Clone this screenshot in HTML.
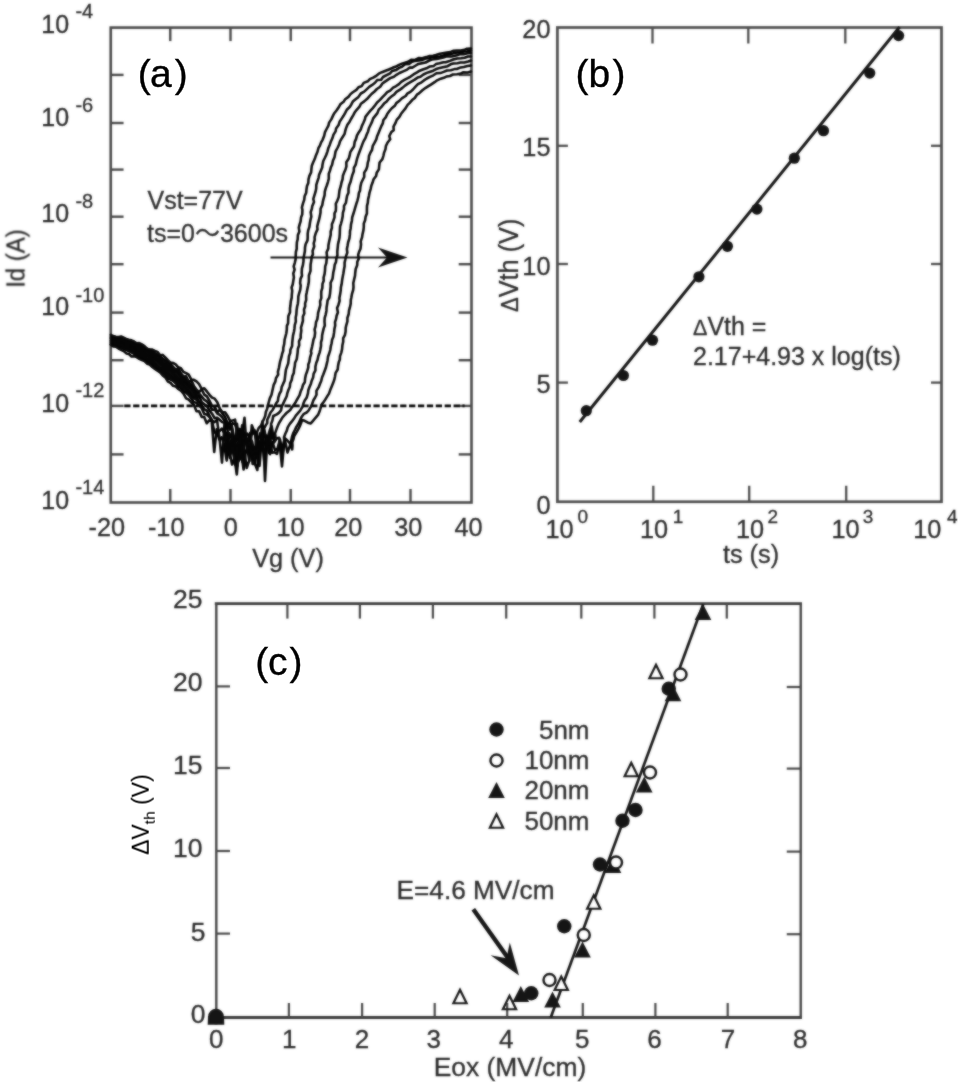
<!DOCTYPE html>
<html><head><meta charset="utf-8"><title>Figure</title>
<style>
html,body{margin:0;padding:0;background:#fff;}
svg{display:block;font-family:"Liberation Sans", "Noto Sans CJK JP", sans-serif;}
</style></head>
<body>
<svg width="962" height="1083" viewBox="0 0 962 1083">
<defs><filter id="soft" x="0" y="0" width="100%" height="100%" filterUnits="objectBoundingBox" color-interpolation-filters="sRGB"><feGaussianBlur stdDeviation="0.8" result="b"/><feComposite in="b" in2="SourceGraphic" operator="arithmetic" k1="0" k2="0.6" k3="0.4" k4="0"/></filter></defs>
<rect width="962" height="1083" fill="#fff"/>
<g filter="url(#soft)">
<rect x="110.75" y="27.6" width="360.75" height="474.9" fill="none" stroke="#484848" stroke-width="2.6"/>
<line x1="170.25" y1="27.60" x2="170.25" y2="41.10" stroke="#484848" stroke-width="2.4" />
<line x1="170.25" y1="502.50" x2="170.25" y2="489.00" stroke="#484848" stroke-width="2.4" />
<line x1="230.50" y1="27.60" x2="230.50" y2="41.10" stroke="#484848" stroke-width="2.4" />
<line x1="230.50" y1="502.50" x2="230.50" y2="489.00" stroke="#484848" stroke-width="2.4" />
<line x1="290.75" y1="27.60" x2="290.75" y2="41.10" stroke="#484848" stroke-width="2.4" />
<line x1="290.75" y1="502.50" x2="290.75" y2="489.00" stroke="#484848" stroke-width="2.4" />
<line x1="350.00" y1="27.60" x2="350.00" y2="41.10" stroke="#484848" stroke-width="2.4" />
<line x1="350.00" y1="502.50" x2="350.00" y2="489.00" stroke="#484848" stroke-width="2.4" />
<line x1="410.50" y1="27.60" x2="410.50" y2="41.10" stroke="#484848" stroke-width="2.4" />
<line x1="410.50" y1="502.50" x2="410.50" y2="489.00" stroke="#484848" stroke-width="2.4" />
<line x1="110.75" y1="74.90" x2="123.55" y2="74.90" stroke="#484848" stroke-width="2.4" />
<line x1="471.50" y1="74.90" x2="458.70" y2="74.90" stroke="#484848" stroke-width="2.4" />
<line x1="110.75" y1="123.00" x2="123.55" y2="123.00" stroke="#484848" stroke-width="2.4" />
<line x1="471.50" y1="123.00" x2="458.70" y2="123.00" stroke="#484848" stroke-width="2.4" />
<line x1="110.75" y1="169.60" x2="123.55" y2="169.60" stroke="#484848" stroke-width="2.4" />
<line x1="471.50" y1="169.60" x2="458.70" y2="169.60" stroke="#484848" stroke-width="2.4" />
<line x1="110.75" y1="216.70" x2="123.55" y2="216.70" stroke="#484848" stroke-width="2.4" />
<line x1="471.50" y1="216.70" x2="458.70" y2="216.70" stroke="#484848" stroke-width="2.4" />
<line x1="110.75" y1="264.20" x2="123.55" y2="264.20" stroke="#484848" stroke-width="2.4" />
<line x1="471.50" y1="264.20" x2="458.70" y2="264.20" stroke="#484848" stroke-width="2.4" />
<line x1="110.75" y1="312.60" x2="123.55" y2="312.60" stroke="#484848" stroke-width="2.4" />
<line x1="471.50" y1="312.60" x2="458.70" y2="312.60" stroke="#484848" stroke-width="2.4" />
<line x1="110.75" y1="360.20" x2="123.55" y2="360.20" stroke="#484848" stroke-width="2.4" />
<line x1="471.50" y1="360.20" x2="458.70" y2="360.20" stroke="#484848" stroke-width="2.4" />
<line x1="110.75" y1="405.90" x2="123.55" y2="405.90" stroke="#484848" stroke-width="2.4" />
<line x1="471.50" y1="405.90" x2="458.70" y2="405.90" stroke="#484848" stroke-width="2.4" />
<line x1="110.75" y1="454.40" x2="123.55" y2="454.40" stroke="#484848" stroke-width="2.4" />
<line x1="471.50" y1="454.40" x2="458.70" y2="454.40" stroke="#484848" stroke-width="2.4" />
<text x="41.30" y="33.30" font-size="25" fill="#2b2b2b" stroke="#2b2b2b" stroke-width="0.3" text-anchor="start" >10</text>
<text x="75.40" y="18.30" font-size="20" fill="#2b2b2b" stroke="#2b2b2b" stroke-width="0.3" text-anchor="start" >-4</text>
<text x="41.30" y="126.00" font-size="25" fill="#2b2b2b" stroke="#2b2b2b" stroke-width="0.3" text-anchor="start" >10</text>
<text x="75.40" y="112.00" font-size="20" fill="#2b2b2b" stroke="#2b2b2b" stroke-width="0.3" text-anchor="start" >-6</text>
<text x="41.30" y="222.00" font-size="25" fill="#2b2b2b" stroke="#2b2b2b" stroke-width="0.3" text-anchor="start" >10</text>
<text x="75.40" y="208.30" font-size="20" fill="#2b2b2b" stroke="#2b2b2b" stroke-width="0.3" text-anchor="start" >-8</text>
<text x="41.30" y="315.30" font-size="25" fill="#2b2b2b" stroke="#2b2b2b" stroke-width="0.3" text-anchor="start" >10</text>
<text x="75.40" y="302.00" font-size="20" fill="#2b2b2b" stroke="#2b2b2b" stroke-width="0.3" text-anchor="start" >-10</text>
<text x="41.30" y="412.20" font-size="25" fill="#2b2b2b" stroke="#2b2b2b" stroke-width="0.3" text-anchor="start" >10</text>
<text x="75.40" y="396.80" font-size="20" fill="#2b2b2b" stroke="#2b2b2b" stroke-width="0.3" text-anchor="start" >-12</text>
<text x="41.30" y="509.00" font-size="25" fill="#2b2b2b" stroke="#2b2b2b" stroke-width="0.3" text-anchor="start" >10</text>
<text x="75.40" y="493.50" font-size="20" fill="#2b2b2b" stroke="#2b2b2b" stroke-width="0.3" text-anchor="start" >-14</text>
<text x="106.75" y="536.20" font-size="25.3" fill="#2b2b2b" stroke="#2b2b2b" stroke-width="0.3" text-anchor="middle" >-20</text>
<text x="166.20" y="536.20" font-size="25.3" fill="#2b2b2b" stroke="#2b2b2b" stroke-width="0.3" text-anchor="middle" >-10</text>
<text x="230.70" y="536.20" font-size="25.3" fill="#2b2b2b" stroke="#2b2b2b" stroke-width="0.3" text-anchor="middle" >0</text>
<text x="290.60" y="536.20" font-size="25.3" fill="#2b2b2b" stroke="#2b2b2b" stroke-width="0.3" text-anchor="middle" >10</text>
<text x="348.20" y="536.20" font-size="25.3" fill="#2b2b2b" stroke="#2b2b2b" stroke-width="0.3" text-anchor="middle" >20</text>
<text x="408.30" y="536.20" font-size="25.3" fill="#2b2b2b" stroke="#2b2b2b" stroke-width="0.3" text-anchor="middle" >30</text>
<text x="468.50" y="536.20" font-size="25.3" fill="#2b2b2b" stroke="#2b2b2b" stroke-width="0.3" text-anchor="middle" >40</text>
<text x="288.00" y="567.00" font-size="25.3" fill="#2b2b2b" stroke="#2b2b2b" stroke-width="0.3" text-anchor="middle" >Vg (V)</text>
<text transform="translate(24.8,258.5) rotate(-90) scale(1,1.1)" font-size="24" fill="#2b2b2b" stroke="#2b2b2b" stroke-width="0.3" text-anchor="middle">Id (A)</text>
<text x="147.50" y="208.50" font-size="25" fill="#2b2b2b" stroke="#2b2b2b" stroke-width="0.3" text-anchor="start" >Vst=77V</text>
<text x="147.00" y="241.70" font-size="25" fill="#2b2b2b" stroke="#2b2b2b" stroke-width="0.3" text-anchor="start" >ts=0〜3600s</text>
<line x1="124.25" y1="405.90" x2="464.60" y2="405.90" stroke="#000" stroke-width="2.8" stroke-dasharray="6.3 2.6"/>
<line x1="270.50" y1="257.50" x2="392.00" y2="257.50" stroke="#111" stroke-width="2.2" />
<path d="M407.5 257.5 L378 247.5 L387 257.5 L378 267.5 Z" fill="#111"/>
<path d="M110.8 335.5 L114.8 336.2 L118.8 337.0 L122.8 338.0 L126.8 339.1 L130.8 340.3 L134.8 341.8 L138.8 343.3 L142.8 345.0 L146.8 346.9 L150.8 348.9 L154.8 351.5 L158.8 354.2 L162.8 357.1 L166.8 360.2 L170.8 363.5 L174.8 366.9 L178.8 370.6 L182.8 374.4 L186.8 378.4 L190.8 382.6 L194.8 386.9 L198.8 391.5 L198.8 403.8 L194.8 400.1 L190.8 396.4 L186.8 392.8 L182.8 389.4 L178.8 386.1 L174.8 382.9 L170.8 379.8 L166.8 376.8 L162.8 373.9 L158.8 371.2 L154.8 368.5 L150.8 366.0 L146.8 363.3 L142.8 360.6 L138.8 358.1 L134.8 355.8 L130.8 353.6 L126.8 351.6 L122.8 349.7 L118.8 347.9 L114.8 346.3 L110.8 344.9 Z" fill="#0c0c0c"/>
<g fill="none" stroke="#060606" stroke-width="2.55" stroke-linejoin="round" stroke-linecap="round">
<path d="M110.8 340.3 L113.3 341.8 L115.9 341.2 L118.5 343.2 L121.1 343.1 L123.7 344.0 L126.3 347.0 L128.9 346.4 L131.5 347.3 L134.1 349.3 L136.7 350.9 L139.3 351.0 L141.9 353.1 L144.5 353.2 L147.1 355.1 L149.7 356.6 L152.3 357.5 L154.9 359.1 L157.5 360.7 L160.1 363.5 L162.7 365.4 L165.3 367.2 L167.9 369.5 L170.5 370.4 L173.1 373.5 L175.7 376.1 L178.3 379.2 L180.9 379.5 L183.5 382.3 L186.1 383.2 L188.7 387.1 L191.3 388.0 L193.9 391.3 L196.5 397.3 L199.1 395.8 L201.7 402.3 L204.3 404.3 L206.9 406.2 L209.5 410.5 L212.1 413.7 L214.6 418.1 L217.1 417.8 L219.6 419.8 L222.1 422.1 L224.6 422.9 L227.1 428.8 L229.6 422.0 L232.1 427.3 L234.6 454.2 L237.1 466.0 L239.6 454.4 L242.1 425.2 L244.6 436.5 L247.1 433.5 L249.6 437.2 L252.1 441.7 L254.6 455.0 L257.1 431.9 L258.7 427.9 L261.0 425.6 L262.2 422.5 L263.8 419.4 L265.2 415.9 L265.9 411.8 L267.1 408.9 L267.9 405.6 L268.6 402.8 L269.8 398.4 L271.5 394.8 L272.2 391.6 L273.0 388.0 L273.7 384.8 L275.3 381.7 L276.0 378.1 L278.2 374.5 L277.9 371.9 L278.9 368.0 L279.6 364.2 L280.1 361.6 L281.4 357.2 L282.1 353.9 L283.2 350.8 L283.3 347.8 L284.2 344.0 L284.6 339.8 L285.4 336.7 L286.3 333.2 L286.8 329.6 L286.9 325.9 L288.1 323.3 L288.2 319.3 L288.4 315.9 L290.0 312.3 L290.0 308.3 L290.4 305.5 L290.8 301.4 L291.7 297.6 L291.8 294.9 L292.2 290.8 L291.6 287.5 L292.7 284.5 L293.3 280.9 L293.9 277.2 L293.3 273.5 L294.6 269.7 L293.7 266.4 L294.8 262.8 L295.6 259.4 L295.7 255.6 L295.9 251.8 L296.7 248.9 L296.7 246.1 L296.9 242.3 L297.7 239.2 L297.9 235.0 L299.4 231.6 L298.8 227.6 L299.7 224.2 L300.6 221.3 L301.1 217.2 L302.2 214.6 L302.4 210.1 L301.9 207.5 L303.0 203.4 L304.2 199.9 L304.6 196.3 L306.2 192.7 L306.4 190.0 L307.0 186.0 L308.3 182.9 L308.5 179.3 L309.4 175.9 L311.1 172.4 L311.4 169.1 L311.8 165.8 L313.0 162.7 L314.8 158.8 L315.9 155.4 L317.5 151.8 L318.4 148.2 L319.9 145.6 L321.1 142.4 L322.6 139.8 L324.2 135.8 L325.0 132.1 L326.6 129.0 L328.4 125.7 L329.1 122.6 L331.3 119.4 L332.9 115.9 L334.3 113.2 L336.5 110.5 L338.9 107.0 L340.3 104.3 L343.6 101.8 L345.2 99.2 L348.4 96.9 L350.2 94.4 L352.8 92.2 L356.4 89.9 L358.5 87.3 L361.7 86.1 L363.7 82.9 L367.8 81.3 L369.8 79.2 L373.2 77.7 L375.7 76.2 L378.8 73.7 L381.9 72.2 L385.6 70.7 L388.8 69.5 L392.5 67.8 L395.3 66.8 L399.0 64.9 L401.9 63.6 L405.0 62.7 L408.0 61.8 L411.1 59.8 L415.0 60.0 L419.0 58.0 L422.2 58.2 L426.1 57.1 L429.1 56.1 L433.1 55.7 L435.9 55.0 L439.9 53.7 L442.6 53.3 L446.8 52.6 L450.3 52.1 L453.6 50.7 L457.0 50.5 L460.9 50.6 L464.5 49.8 L466.9 48.7 L471.0 48.5"/>
<path d="M110.8 334.8 L113.3 336.1 L115.9 336.7 L118.5 336.9 L121.1 336.5 L123.7 337.7 L126.3 338.9 L128.9 339.7 L131.5 340.3 L134.1 341.5 L136.7 343.2 L139.3 343.1 L141.9 344.4 L144.5 346.0 L147.1 348.9 L149.7 349.3 L152.3 349.5 L154.9 350.9 L157.5 351.9 L160.1 355.2 L162.7 354.9 L165.3 357.4 L167.9 360.2 L170.5 362.6 L173.1 363.0 L175.7 364.3 L178.3 367.3 L180.9 368.2 L183.5 371.9 L186.1 373.1 L188.7 374.7 L191.3 379.5 L193.9 379.8 L196.5 381.4 L199.1 384.1 L201.7 389.0 L204.3 388.2 L206.9 391.4 L209.5 394.8 L212.1 397.6 L214.7 398.7 L217.3 402.2 L219.9 408.8 L222.5 412.2 L225.1 412.3 L227.6 415.9 L230.1 421.0 L232.6 420.6 L235.1 419.6 L237.6 439.7 L240.1 440.6 L242.6 431.0 L245.1 439.3 L247.6 440.8 L250.1 432.8 L252.6 463.9 L255.1 463.9 L257.6 442.0 L260.1 433.3 L261.1 436.2 L262.8 432.7 L263.7 429.1 L265.7 425.4 L267.2 423.1 L267.3 419.8 L269.2 415.8 L270.5 412.5 L272.8 409.7 L274.7 406.2 L276.0 403.5 L277.9 400.9 L278.3 397.7 L279.6 393.5 L281.1 391.0 L281.7 387.0 L283.3 383.4 L284.5 380.9 L285.0 377.2 L285.5 373.0 L285.9 369.9 L287.0 366.7 L288.2 363.3 L288.7 359.1 L289.0 356.1 L290.2 353.0 L290.4 349.8 L292.1 345.9 L292.2 342.9 L292.6 339.1 L293.0 335.6 L294.0 331.5 L294.5 328.2 L294.8 324.9 L295.8 321.7 L295.7 317.5 L296.3 314.6 L296.6 310.1 L297.1 306.8 L297.8 304.0 L298.2 300.6 L298.3 296.6 L299.0 293.8 L300.2 289.8 L300.7 285.6 L300.1 283.0 L300.5 278.9 L302.0 275.6 L301.7 272.8 L301.9 268.7 L302.9 265.1 L303.5 261.1 L303.5 258.2 L304.2 254.7 L304.9 251.1 L305.0 247.6 L305.6 244.3 L307.5 240.4 L307.7 237.6 L307.7 233.6 L308.2 230.3 L309.4 226.9 L309.9 223.0 L310.6 219.3 L311.3 216.7 L310.7 212.2 L311.9 208.7 L312.2 206.3 L314.0 202.0 L313.3 199.0 L314.4 195.3 L315.5 191.9 L316.2 188.6 L316.3 184.9 L317.4 181.4 L318.6 177.8 L319.1 174.8 L320.5 171.4 L322.2 167.5 L322.5 164.7 L323.3 161.0 L324.9 157.8 L326.2 155.0 L327.5 151.3 L328.4 147.9 L329.8 144.7 L331.0 141.2 L332.5 138.0 L333.5 134.6 L335.6 131.4 L336.1 128.4 L338.6 125.1 L339.6 121.8 L341.7 118.6 L343.5 115.8 L345.2 112.9 L346.8 109.7 L349.7 107.0 L351.2 104.7 L352.8 101.6 L355.9 99.0 L358.5 96.9 L360.8 93.5 L364.2 91.7 L366.9 89.1 L369.2 86.9 L372.2 84.9 L375.0 82.8 L377.3 80.0 L381.1 79.7 L383.0 77.0 L387.6 74.6 L390.1 73.3 L392.2 71.0 L396.3 69.9 L399.2 67.9 L402.0 66.8 L405.1 64.3 L409.0 64.1 L412.0 61.7 L414.5 61.0 L418.5 60.5 L422.3 59.9 L425.4 58.5 L429.4 58.3 L432.1 56.8 L435.8 56.8 L440.0 56.4 L443.5 55.4 L446.6 54.2 L450.3 54.3 L453.9 53.1 L457.6 52.4 L459.7 52.5 L464.0 51.4 L467.4 51.2 L471.0 50.5"/>
<path d="M110.8 344.0 L113.3 344.7 L115.9 345.3 L118.5 346.2 L121.1 346.8 L123.7 347.8 L126.3 349.8 L128.9 350.6 L131.5 351.3 L134.1 352.5 L136.7 355.3 L139.3 356.0 L141.9 358.3 L144.5 359.0 L147.1 360.1 L149.7 362.2 L152.3 364.6 L154.9 365.1 L157.5 368.4 L160.1 369.0 L162.7 372.3 L165.3 374.9 L167.9 378.6 L170.5 379.7 L173.1 380.9 L175.7 383.3 L178.3 386.5 L180.9 387.8 L183.5 391.0 L186.1 392.8 L188.7 395.0 L191.3 398.6 L193.9 402.3 L196.5 402.7 L199.1 405.7 L201.7 408.2 L204.3 414.1 L206.8 414.6 L209.3 416.9 L211.8 419.8 L214.3 431.7 L216.8 434.9 L219.3 431.5 L221.8 428.5 L224.3 433.3 L226.8 432.9 L229.3 448.4 L231.8 443.1 L234.3 457.1 L236.8 474.5 L239.3 448.0 L241.8 447.2 L244.3 439.4 L246.8 444.6 L249.3 461.1 L251.8 425.2 L254.3 431.7 L256.8 436.6 L259.3 450.5 L261.8 436.1 L264.3 461.5 L266.8 438.3 L268.0 437.7 L268.6 434.4 L269.8 430.2 L270.9 427.2 L271.2 423.6 L272.4 420.5 L273.3 416.0 L276.8 414.4 L278.9 412.9 L281.0 410.4 L281.8 406.6 L283.0 403.9 L284.7 400.4 L286.7 396.3 L287.2 393.7 L288.4 390.0 L289.8 387.0 L290.2 383.2 L291.7 379.9 L292.4 376.0 L293.8 372.9 L294.1 369.5 L294.8 366.1 L295.1 362.7 L296.7 359.3 L297.2 355.8 L297.6 352.8 L297.9 348.8 L299.2 345.3 L299.0 341.3 L300.7 337.9 L300.7 334.9 L301.3 330.6 L301.0 327.7 L302.0 324.1 L302.9 320.8 L302.9 316.6 L304.3 313.5 L304.0 309.5 L305.2 306.3 L305.1 303.4 L306.2 299.9 L306.1 295.2 L306.7 292.6 L307.3 289.5 L308.2 285.3 L308.8 282.1 L308.9 279.0 L308.9 275.5 L310.5 270.9 L310.5 268.1 L310.6 264.4 L311.2 261.1 L311.7 256.8 L312.9 254.4 L312.6 250.9 L314.2 246.5 L313.7 243.3 L314.7 239.9 L314.6 237.0 L315.7 233.3 L317.5 229.4 L317.2 226.5 L318.1 222.9 L318.9 220.2 L319.9 215.9 L320.5 212.5 L320.6 208.8 L322.3 205.0 L322.8 201.9 L323.4 199.4 L324.6 195.2 L324.8 191.6 L325.8 188.1 L326.8 185.5 L328.0 181.8 L328.8 178.7 L328.8 173.8 L329.9 170.9 L330.9 167.2 L332.1 164.7 L333.0 160.6 L334.5 157.2 L335.1 154.1 L335.6 151.3 L337.7 147.5 L339.2 144.2 L340.0 141.4 L342.2 137.7 L344.6 133.9 L345.2 131.1 L345.9 128.6 L347.4 124.8 L349.6 121.7 L351.0 119.0 L353.3 115.1 L354.6 112.6 L356.7 109.8 L359.5 106.7 L360.9 103.7 L364.2 101.4 L367.2 98.8 L369.1 96.7 L371.5 94.0 L374.5 91.5 L376.9 89.0 L380.2 86.8 L382.4 83.5 L384.7 81.9 L387.6 79.9 L390.2 78.1 L393.9 76.7 L396.4 74.8 L399.5 73.0 L402.6 71.6 L407.1 69.6 L409.8 67.6 L412.3 67.6 L415.8 65.5 L418.4 63.9 L422.1 63.2 L425.6 62.5 L428.8 60.8 L431.8 59.6 L436.6 58.9 L439.0 58.4 L443.4 57.6 L446.9 56.3 L450.7 56.4 L452.6 56.2 L456.8 55.2 L459.7 54.3 L463.3 54.3 L467.4 53.2 L471.0 53.0"/>
<path d="M110.8 338.3 L113.3 339.7 L115.9 339.4 L118.5 339.8 L121.1 341.1 L123.7 342.1 L126.3 343.3 L128.9 345.0 L131.5 344.9 L134.1 346.0 L136.7 348.2 L139.3 349.0 L141.9 349.8 L144.5 351.5 L147.1 351.1 L149.7 353.7 L152.3 354.5 L154.9 356.9 L157.5 360.0 L160.1 359.3 L162.7 363.6 L165.3 363.7 L167.9 365.9 L170.5 367.6 L173.1 371.1 L175.7 371.5 L178.3 372.5 L180.9 377.0 L183.5 378.6 L186.1 382.1 L188.7 384.5 L191.3 384.8 L193.9 388.8 L196.5 391.2 L199.1 393.6 L201.7 396.6 L204.3 399.7 L206.9 401.4 L209.5 404.7 L212.1 409.8 L214.7 409.4 L217.3 413.6 L219.8 414.9 L222.3 417.4 L224.8 421.2 L227.3 426.1 L229.8 457.7 L232.3 429.0 L234.8 441.0 L237.3 466.0 L239.8 429.0 L242.3 437.4 L244.8 433.6 L247.3 447.1 L249.8 453.5 L252.3 448.2 L254.8 463.6 L257.3 470.0 L259.8 445.1 L262.3 442.2 L264.8 433.9 L267.3 437.5 L269.8 435.5 L272.3 438.5 L275.5 436.8 L275.1 433.3 L276.1 430.4 L277.3 427.0 L278.9 423.2 L280.9 420.0 L282.5 417.4 L285.1 414.5 L286.8 412.7 L290.2 410.0 L291.9 407.4 L294.2 404.4 L295.9 401.7 L297.7 398.3 L299.5 395.3 L300.6 391.6 L302.1 388.2 L303.1 384.7 L304.8 382.2 L305.1 378.6 L305.9 374.6 L307.1 371.5 L308.3 367.3 L308.3 364.5 L309.4 361.8 L310.1 357.3 L311.4 353.1 L310.9 351.5 L312.0 347.1 L312.8 343.3 L313.5 339.6 L314.6 336.9 L315.1 332.8 L314.6 329.4 L315.6 326.2 L316.0 322.3 L317.3 319.3 L317.9 315.2 L318.1 312.8 L319.4 308.3 L320.3 305.0 L320.1 301.3 L321.3 298.1 L321.2 294.2 L321.3 291.1 L322.3 288.1 L322.5 283.9 L323.7 280.8 L323.6 277.5 L324.6 273.8 L325.0 270.3 L325.2 266.4 L326.3 263.1 L326.6 259.8 L327.0 256.1 L326.6 252.2 L328.3 248.6 L328.4 245.5 L329.0 242.2 L329.9 238.3 L330.7 234.8 L330.7 231.5 L331.9 227.9 L331.9 224.3 L333.2 221.2 L334.5 217.4 L334.5 213.3 L335.8 210.8 L336.0 206.8 L335.8 203.8 L337.3 200.7 L338.7 197.1 L339.1 193.6 L339.5 190.3 L340.8 185.9 L341.5 182.5 L342.6 179.1 L342.9 175.8 L344.1 172.6 L345.5 169.5 L346.4 166.3 L346.3 162.3 L348.8 158.5 L349.6 155.7 L350.3 152.1 L352.4 148.8 L354.0 146.5 L354.7 141.9 L356.1 138.9 L356.9 135.6 L358.7 132.4 L360.7 129.6 L361.9 125.9 L363.4 122.8 L364.9 119.3 L365.4 116.9 L368.2 113.3 L370.4 110.6 L372.6 108.4 L375.1 105.3 L377.1 102.5 L380.0 99.9 L382.5 97.1 L385.0 94.6 L387.2 92.2 L390.2 90.6 L393.1 87.7 L395.8 86.3 L399.0 84.1 L401.2 81.8 L404.4 79.9 L407.8 78.2 L410.6 76.6 L413.5 74.4 L417.0 72.4 L419.7 70.7 L422.8 69.5 L426.5 68.3 L429.9 66.4 L433.8 65.9 L435.9 64.1 L439.6 63.3 L443.4 62.2 L445.6 62.2 L450.4 60.6 L453.2 59.5 L457.3 58.6 L460.9 58.2 L464.6 57.7 L468.1 56.5 L471.0 56.5"/>
<path d="M110.8 344.7 L113.3 346.6 L115.9 346.7 L118.5 348.5 L121.1 349.8 L123.7 351.1 L126.3 353.4 L128.9 354.0 L131.5 356.5 L134.1 356.2 L136.7 357.1 L139.3 358.9 L141.9 360.1 L144.5 361.0 L147.1 363.7 L149.7 364.5 L152.3 367.0 L154.9 368.9 L157.5 370.7 L160.1 372.4 L162.7 375.4 L165.3 377.4 L167.9 381.7 L170.5 382.9 L173.1 385.8 L175.7 386.4 L178.3 389.0 L180.9 390.7 L183.5 393.6 L186.1 398.3 L188.7 399.6 L191.3 402.5 L193.9 404.9 L196.5 411.3 L199.1 411.2 L201.7 416.9 L204.2 417.0 L206.7 423.3 L209.2 420.4 L211.7 421.2 L214.2 452.0 L216.7 429.2 L219.2 439.4 L221.7 437.3 L224.2 445.2 L226.7 460.6 L229.2 433.1 L231.7 438.1 L234.2 454.7 L236.7 448.2 L239.2 438.4 L241.7 432.4 L244.2 450.4 L246.7 468.0 L249.2 460.6 L251.7 430.3 L254.2 432.0 L256.7 439.5 L259.2 441.6 L261.7 448.6 L264.2 444.2 L266.7 436.7 L269.2 453.1 L271.7 426.3 L274.2 442.4 L276.7 438.3 L279.2 437.8 L281.7 451.3 L284.2 440.5 L284.0 437.3 L285.4 433.5 L286.8 430.6 L287.7 427.3 L289.8 423.9 L292.1 421.1 L293.9 418.8 L295.8 415.7 L298.0 413.2 L300.2 410.7 L302.6 406.6 L303.4 403.5 L304.7 400.5 L306.6 397.8 L308.0 393.2 L308.3 390.3 L309.5 387.0 L311.0 383.4 L311.6 381.0 L313.1 377.6 L313.6 373.9 L315.4 370.4 L315.4 366.8 L316.3 362.7 L317.5 359.9 L318.3 356.2 L319.6 352.6 L320.3 349.6 L321.0 346.1 L321.0 342.3 L321.9 339.2 L322.1 335.5 L322.8 332.1 L323.7 328.4 L324.8 325.5 L324.5 321.4 L324.7 317.8 L325.7 314.6 L326.4 310.9 L326.6 307.2 L327.2 303.8 L327.6 300.4 L329.3 297.7 L330.0 293.8 L330.3 290.4 L330.7 286.5 L330.6 282.7 L332.5 278.8 L332.9 275.9 L333.3 272.5 L334.2 268.6 L334.7 264.8 L336.0 261.9 L336.4 258.1 L337.4 255.3 L337.3 251.5 L337.7 247.7 L338.0 244.3 L338.7 241.4 L339.5 237.5 L339.8 233.8 L339.9 229.8 L340.1 226.4 L341.1 223.3 L341.9 220.2 L342.7 216.3 L342.9 212.8 L344.0 209.1 L344.0 205.9 L345.9 202.9 L346.6 198.4 L347.1 195.8 L348.5 192.8 L348.5 188.8 L349.2 185.2 L350.5 182.1 L351.6 177.8 L352.3 175.1 L353.8 171.2 L353.9 167.9 L355.7 164.6 L356.4 161.5 L357.2 158.3 L358.2 155.3 L359.8 151.0 L361.1 147.6 L362.3 144.4 L363.5 141.4 L365.5 137.9 L366.7 134.5 L368.1 131.4 L368.9 128.3 L370.6 124.8 L372.0 121.9 L373.2 118.4 L375.6 115.4 L377.4 113.1 L378.7 109.6 L381.2 107.2 L384.0 103.6 L386.7 101.5 L388.6 99.0 L391.5 96.4 L393.9 94.8 L396.4 91.9 L400.0 89.6 L402.4 87.9 L405.0 85.6 L407.9 83.6 L411.3 81.6 L414.3 79.9 L417.6 77.6 L420.4 76.8 L423.4 74.5 L426.8 72.9 L430.2 71.7 L433.2 70.7 L437.1 68.7 L439.8 67.9 L442.8 67.2 L447.6 66.2 L450.7 64.3 L453.4 63.6 L457.4 63.2 L460.5 62.6 L464.3 62.4 L468.1 61.5 L471.0 60.5"/>
<path d="M110.8 337.2 L113.3 336.9 L115.9 338.3 L118.5 338.7 L121.1 339.5 L123.7 341.1 L126.3 340.4 L128.9 342.6 L131.5 344.1 L134.1 343.3 L136.7 346.5 L139.3 345.7 L141.9 346.8 L144.5 349.6 L147.1 349.9 L149.7 350.0 L152.3 352.2 L154.9 355.1 L157.5 355.4 L160.1 357.0 L162.7 359.1 L165.3 360.8 L167.9 362.1 L170.5 363.8 L173.1 367.1 L175.7 370.3 L178.3 368.3 L180.9 373.3 L183.5 376.5 L186.1 376.3 L188.7 381.8 L191.3 380.4 L193.9 385.9 L196.5 389.6 L199.1 392.1 L201.7 389.2 L204.3 394.7 L206.9 396.3 L209.5 400.9 L212.1 405.8 L214.7 406.7 L217.3 412.4 L219.9 409.6 L222.5 413.6 L225.0 416.8 L227.5 423.2 L230.0 429.6 L232.5 423.1 L235.0 424.3 L237.5 428.8 L240.0 429.3 L242.5 462.0 L245.0 434.6 L247.5 443.1 L250.0 434.4 L252.5 433.7 L255.0 431.8 L257.5 448.4 L260.0 447.7 L262.5 421.4 L265.0 481.0 L267.5 436.0 L270.0 454.2 L272.5 441.9 L275.0 450.2 L277.5 448.6 L280.0 439.4 L282.5 453.8 L285.0 440.6 L287.5 452.6 L291.0 442.6 L291.3 440.1 L292.0 436.7 L293.4 432.8 L295.1 429.5 L296.3 426.9 L298.5 423.5 L300.2 419.8 L301.2 417.5 L303.9 413.8 L306.6 412.5 L308.3 410.9 L310.7 407.1 L312.1 404.0 L313.4 400.3 L315.0 397.8 L316.5 394.8 L316.4 390.9 L318.7 387.2 L320.0 383.7 L321.2 380.9 L322.2 377.0 L323.2 374.7 L324.6 371.0 L325.9 367.5 L326.8 363.6 L327.5 360.7 L328.0 356.8 L329.2 353.5 L330.3 349.8 L330.8 346.4 L331.6 343.3 L332.1 339.7 L333.4 336.7 L334.1 332.4 L334.4 329.0 L335.2 325.5 L335.0 322.2 L336.1 318.9 L336.6 315.8 L337.9 312.5 L337.1 308.1 L338.5 304.7 L339.6 300.8 L339.4 298.1 L340.2 293.7 L340.7 290.6 L340.9 287.3 L341.6 284.3 L342.1 280.3 L342.7 276.9 L343.4 273.3 L344.0 269.3 L344.6 266.3 L344.6 262.6 L345.4 259.3 L346.2 255.6 L347.3 252.7 L346.9 249.0 L347.6 245.5 L348.1 242.5 L349.4 238.4 L349.9 234.4 L350.0 231.1 L350.7 228.2 L351.0 224.4 L351.9 220.7 L352.2 217.3 L353.3 214.0 L354.2 211.2 L355.2 207.7 L356.4 203.7 L357.5 200.3 L358.4 196.8 L358.9 193.0 L360.0 190.6 L360.4 186.6 L361.3 182.7 L363.0 179.3 L364.2 177.0 L364.2 172.6 L366.1 169.8 L367.3 166.3 L367.8 162.6 L368.7 159.9 L369.0 155.9 L370.4 152.7 L372.0 150.0 L372.8 145.8 L374.6 142.7 L376.3 139.4 L377.0 136.6 L378.5 133.0 L380.0 129.2 L381.3 126.2 L382.8 123.3 L383.4 120.0 L385.7 117.4 L387.4 113.7 L389.6 110.8 L391.8 108.2 L394.8 105.8 L396.3 103.1 L398.8 101.3 L402.1 98.1 L405.7 96.0 L407.2 93.7 L410.4 91.9 L413.0 89.5 L415.5 86.7 L417.9 84.2 L421.5 82.3 L423.9 80.4 L426.8 78.5 L429.9 76.9 L433.4 75.3 L436.5 73.3 L440.4 73.1 L443.6 71.9 L447.0 70.5 L450.7 70.2 L454.4 69.1 L456.8 69.0 L460.7 67.4 L463.8 66.9 L467.5 66.0 L471.0 65.5"/>
<path d="M110.8 342.1 L113.3 342.2 L115.9 343.1 L118.5 345.0 L121.1 344.7 L123.7 346.0 L126.3 348.0 L128.9 348.2 L131.5 348.4 L134.1 351.1 L136.7 352.1 L139.3 354.2 L141.9 355.5 L144.5 356.0 L147.1 359.7 L149.7 358.9 L152.3 360.9 L154.9 363.9 L157.5 367.1 L160.1 368.4 L162.7 368.1 L165.3 371.2 L167.9 373.3 L170.5 375.9 L173.1 377.7 L175.7 379.1 L178.3 380.6 L180.9 383.7 L183.5 385.5 L186.1 388.9 L188.7 391.1 L191.3 394.9 L193.9 398.5 L196.5 397.7 L199.1 401.7 L201.7 405.0 L204.3 409.3 L206.9 410.7 L209.5 415.8 L212.0 420.6 L214.5 422.2 L217.0 419.8 L219.5 438.3 L222.0 462.7 L224.5 422.6 L227.0 456.0 L229.5 451.7 L232.0 464.6 L234.5 458.3 L237.0 423.7 L239.5 445.5 L242.0 434.5 L244.5 417.7 L247.0 452.1 L249.5 436.8 L252.0 434.0 L254.5 430.0 L257.0 450.5 L259.5 466.0 L262.0 435.2 L264.5 430.0 L267.0 447.4 L269.5 434.1 L272.0 452.8 L274.5 452.2 L277.0 453.9 L279.5 442.3 L282.0 466.5 L284.5 438.1 L287.0 440.1 L289.5 442.8 L292.2 449.4 L292.5 445.6 L292.3 442.3 L293.6 438.8 L294.2 436.0 L296.5 432.4 L298.2 429.4 L299.8 426.2 L301.2 422.7 L302.1 420.0 L304.7 420.8 L308.0 422.7 L310.8 423.4 L313.2 420.6 L315.5 417.8 L318.0 414.9 L319.4 411.8 L320.5 408.4 L321.4 404.9 L323.8 401.8 L325.1 399.9 L327.5 395.9 L329.0 393.6 L330.3 389.8 L331.8 386.2 L333.1 383.1 L334.3 379.7 L335.0 376.5 L335.6 372.9 L337.7 369.5 L338.0 366.2 L338.8 362.1 L339.8 359.8 L340.0 356.1 L341.3 352.6 L342.1 349.0 L342.4 345.2 L343.2 341.7 L343.2 338.2 L344.9 335.1 L345.6 331.6 L345.7 327.8 L346.4 324.8 L347.4 321.4 L347.4 317.9 L348.7 314.0 L349.0 310.6 L349.9 307.4 L350.7 303.7 L350.8 300.1 L351.3 297.7 L352.0 293.8 L353.2 289.9 L353.5 287.0 L353.3 283.1 L354.0 279.9 L355.0 275.8 L355.2 273.0 L355.7 269.0 L357.2 265.1 L357.3 261.7 L358.7 258.9 L358.2 254.6 L359.1 251.8 L360.5 248.7 L361.0 244.4 L360.7 241.3 L362.1 237.2 L362.4 234.8 L363.4 230.4 L363.8 227.2 L363.8 223.5 L365.1 220.3 L365.6 216.8 L366.9 213.5 L366.9 210.1 L367.0 205.9 L367.8 202.8 L368.1 199.4 L368.9 196.1 L369.6 192.3 L370.6 189.1 L371.4 185.5 L372.6 182.6 L373.6 179.2 L376.1 176.0 L376.7 172.8 L378.9 169.4 L379.2 166.0 L379.6 162.5 L382.4 159.1 L383.5 155.5 L384.0 152.9 L385.5 149.1 L385.9 146.0 L387.6 142.5 L390.2 139.3 L389.3 136.0 L391.3 132.1 L393.7 130.2 L393.5 126.6 L395.4 123.2 L396.7 119.9 L399.4 116.9 L401.1 113.8 L403.5 110.8 L405.5 108.4 L407.6 104.9 L409.7 102.9 L412.1 100.1 L414.8 98.0 L416.9 94.7 L419.0 93.4 L422.4 90.2 L425.7 87.8 L428.4 86.1 L431.3 84.3 L434.6 82.2 L437.1 80.3 L440.7 78.7 L443.8 77.8 L446.3 76.6 L449.9 76.0 L452.9 74.5 L457.0 74.3 L460.9 73.5 L463.5 72.2 L467.5 72.4 L471.0 71.5"/>
<path d="M226.0 444.0 L228.2 451.7 L230.4 454.5 L232.6 446.2 L234.8 464.5 L237.0 444.5 L239.2 460.4 L241.4 454.7 L243.6 469.5 L245.8 451.3 L248.0 447.0 L250.2 448.4 L252.4 455.1 L254.6 449.9 L256.8 451.6 L259.0 448.8 L261.2 447.3"/>
</g>
<rect x="557.4" y="27.5" width="384.1" height="474.25" fill="none" stroke="#4c4c4c" stroke-width="2.7"/>
<line x1="652.50" y1="27.50" x2="652.50" y2="43.50" stroke="#4c4c4c" stroke-width="2.3" />
<line x1="748.30" y1="27.50" x2="748.30" y2="43.50" stroke="#4c4c4c" stroke-width="2.3" />
<line x1="845.30" y1="27.50" x2="845.30" y2="43.50" stroke="#4c4c4c" stroke-width="2.3" />
<line x1="653.30" y1="501.75" x2="653.30" y2="485.75" stroke="#4c4c4c" stroke-width="2.3" />
<line x1="749.20" y1="501.75" x2="749.20" y2="485.75" stroke="#4c4c4c" stroke-width="2.3" />
<line x1="846.20" y1="501.75" x2="846.20" y2="485.75" stroke="#4c4c4c" stroke-width="2.3" />
<line x1="557.40" y1="145.80" x2="567.90" y2="145.80" stroke="#4c4c4c" stroke-width="2.3" />
<line x1="941.50" y1="145.80" x2="931.00" y2="145.80" stroke="#4c4c4c" stroke-width="2.3" />
<line x1="557.40" y1="264.00" x2="567.90" y2="264.00" stroke="#4c4c4c" stroke-width="2.3" />
<line x1="941.50" y1="264.00" x2="931.00" y2="264.00" stroke="#4c4c4c" stroke-width="2.3" />
<line x1="557.40" y1="382.60" x2="567.90" y2="382.60" stroke="#4c4c4c" stroke-width="2.3" />
<line x1="941.50" y1="382.60" x2="931.00" y2="382.60" stroke="#4c4c4c" stroke-width="2.3" />
<text x="550.50" y="37.80" font-size="25.3" fill="#2b2b2b" stroke="#2b2b2b" stroke-width="0.3" text-anchor="end" >20</text>
<text x="550.50" y="155.80" font-size="25.3" fill="#2b2b2b" stroke="#2b2b2b" stroke-width="0.3" text-anchor="end" >15</text>
<text x="550.50" y="274.70" font-size="25.3" fill="#2b2b2b" stroke="#2b2b2b" stroke-width="0.3" text-anchor="end" >10</text>
<text x="550.50" y="392.60" font-size="25.3" fill="#2b2b2b" stroke="#2b2b2b" stroke-width="0.3" text-anchor="end" >5</text>
<text x="550.50" y="513.55" font-size="25.3" fill="#2b2b2b" stroke="#2b2b2b" stroke-width="0.3" text-anchor="end" >0</text>
<text x="545.40" y="537.80" font-size="25.3" fill="#2b2b2b" stroke="#2b2b2b" stroke-width="0.3" text-anchor="start" >10</text>
<text x="577.40" y="523.00" font-size="19" fill="#2b2b2b" stroke="#2b2b2b" stroke-width="0.3" text-anchor="start" >0</text>
<text x="639.92" y="537.80" font-size="25.3" fill="#2b2b2b" stroke="#2b2b2b" stroke-width="0.3" text-anchor="start" >10</text>
<text x="672.72" y="523.00" font-size="19" fill="#2b2b2b" stroke="#2b2b2b" stroke-width="0.3" text-anchor="start" >1</text>
<text x="735.95" y="537.80" font-size="25.3" fill="#2b2b2b" stroke="#2b2b2b" stroke-width="0.3" text-anchor="start" >10</text>
<text x="767.45" y="523.00" font-size="19" fill="#2b2b2b" stroke="#2b2b2b" stroke-width="0.3" text-anchor="start" >2</text>
<text x="831.48" y="537.80" font-size="25.3" fill="#2b2b2b" stroke="#2b2b2b" stroke-width="0.3" text-anchor="start" >10</text>
<text x="862.77" y="523.00" font-size="19" fill="#2b2b2b" stroke="#2b2b2b" stroke-width="0.3" text-anchor="start" >3</text>
<text x="913.30" y="537.80" font-size="25.3" fill="#2b2b2b" stroke="#2b2b2b" stroke-width="0.3" text-anchor="start" >10</text>
<text x="947.00" y="523.00" font-size="19" fill="#2b2b2b" stroke="#2b2b2b" stroke-width="0.3" text-anchor="start" >4</text>
<text x="751.00" y="563.30" font-size="25.3" fill="#2b2b2b" stroke="#2b2b2b" stroke-width="0.3" text-anchor="middle" >ts (s)</text>
<text transform="translate(517.6,265.3) rotate(-90) scale(1,1.07)" font-size="25.3" fill="#2b2b2b" stroke="#2b2b2b" stroke-width="0.3" text-anchor="middle"><tspan font-size="22">Δ</tspan>Vth (V)</text>
<text x="693.00" y="334.50" font-size="25" fill="#2b2b2b" stroke="#2b2b2b" stroke-width="0.3" text-anchor="start" ><tspan font-size="21.5">Δ</tspan>Vth =</text>
<text x="693.00" y="364.50" font-size="25" fill="#2b2b2b" stroke="#2b2b2b" stroke-width="0.3" text-anchor="start" >2.17+4.93 x log(ts)</text>
<line x1="579.75" y1="422.00" x2="899.60" y2="27.00" stroke="#151515" stroke-width="3.0" />
<circle cx="586.3" cy="410.7" r="5.6" fill="#151515"/>
<circle cx="623.4" cy="375.5" r="5.6" fill="#151515"/>
<circle cx="652.5" cy="340.2" r="5.6" fill="#151515"/>
<circle cx="698.9" cy="276.8" r="5.6" fill="#151515"/>
<circle cx="727.4" cy="246.3" r="5.6" fill="#151515"/>
<circle cx="756.9" cy="209.1" r="5.6" fill="#151515"/>
<circle cx="794.3" cy="158.2" r="5.6" fill="#151515"/>
<circle cx="823.5" cy="130.7" r="5.6" fill="#151515"/>
<circle cx="869.75" cy="73.1" r="5.6" fill="#151515"/>
<circle cx="898.6" cy="35.6" r="5.6" fill="#151515"/>
<line x1="214.80" y1="603.60" x2="801.95" y2="603.60" stroke="#3a3a3a" stroke-width="2.8" />
<line x1="215.00" y1="1017.50" x2="801.95" y2="1017.50" stroke="#3a3a3a" stroke-width="3.0" />
<line x1="216.30" y1="603.60" x2="216.30" y2="1017.50" stroke="#444" stroke-width="2.4" />
<line x1="800.75" y1="603.60" x2="800.75" y2="1017.50" stroke="#444" stroke-width="2.4" />
<line x1="287.40" y1="603.60" x2="287.40" y2="618.60" stroke="#484848" stroke-width="2.2" />
<line x1="359.90" y1="603.60" x2="359.90" y2="618.60" stroke="#484848" stroke-width="2.2" />
<line x1="432.90" y1="603.60" x2="432.90" y2="618.60" stroke="#484848" stroke-width="2.2" />
<line x1="506.20" y1="603.60" x2="506.20" y2="618.60" stroke="#484848" stroke-width="2.2" />
<line x1="581.30" y1="603.60" x2="581.30" y2="618.60" stroke="#484848" stroke-width="2.2" />
<line x1="654.40" y1="603.60" x2="654.40" y2="618.60" stroke="#484848" stroke-width="2.2" />
<line x1="726.80" y1="603.60" x2="726.80" y2="618.60" stroke="#484848" stroke-width="2.2" />
<line x1="288.90" y1="1017.50" x2="288.90" y2="1003.00" stroke="#484848" stroke-width="2.2" />
<line x1="362.10" y1="1017.50" x2="362.10" y2="1003.00" stroke="#484848" stroke-width="2.2" />
<line x1="434.70" y1="1017.50" x2="434.70" y2="1003.00" stroke="#484848" stroke-width="2.2" />
<line x1="507.20" y1="1017.50" x2="507.20" y2="1003.00" stroke="#484848" stroke-width="2.2" />
<line x1="582.80" y1="1017.50" x2="582.80" y2="1003.00" stroke="#484848" stroke-width="2.2" />
<line x1="655.40" y1="1017.50" x2="655.40" y2="1003.00" stroke="#484848" stroke-width="2.2" />
<line x1="727.70" y1="1017.50" x2="727.70" y2="1003.00" stroke="#484848" stroke-width="2.2" />
<line x1="216.00" y1="686.40" x2="230.00" y2="686.40" stroke="#484848" stroke-width="2.2" />
<line x1="800.75" y1="687.00" x2="786.75" y2="687.00" stroke="#484848" stroke-width="2.2" />
<line x1="216.00" y1="768.00" x2="230.00" y2="768.00" stroke="#484848" stroke-width="2.2" />
<line x1="800.75" y1="768.60" x2="786.75" y2="768.60" stroke="#484848" stroke-width="2.2" />
<line x1="216.00" y1="851.00" x2="230.00" y2="851.00" stroke="#484848" stroke-width="2.2" />
<line x1="800.75" y1="851.60" x2="786.75" y2="851.60" stroke="#484848" stroke-width="2.2" />
<line x1="216.00" y1="933.60" x2="230.00" y2="933.60" stroke="#484848" stroke-width="2.2" />
<line x1="800.75" y1="934.20" x2="786.75" y2="934.20" stroke="#484848" stroke-width="2.2" />
<text x="202.50" y="608.20" font-size="26.5" fill="#2b2b2b" stroke="#2b2b2b" stroke-width="0.3" text-anchor="end" >25</text>
<text x="202.50" y="691.40" font-size="26.5" fill="#2b2b2b" stroke="#2b2b2b" stroke-width="0.3" text-anchor="end" >20</text>
<text x="202.50" y="774.00" font-size="26.5" fill="#2b2b2b" stroke="#2b2b2b" stroke-width="0.3" text-anchor="end" >15</text>
<text x="202.50" y="856.60" font-size="26.5" fill="#2b2b2b" stroke="#2b2b2b" stroke-width="0.3" text-anchor="end" >10</text>
<text x="205.50" y="940.80" font-size="26.5" fill="#2b2b2b" stroke="#2b2b2b" stroke-width="0.3" text-anchor="end" >5</text>
<text x="205.50" y="1022.50" font-size="26.5" fill="#2b2b2b" stroke="#2b2b2b" stroke-width="0.3" text-anchor="end" >0</text>
<text x="216.30" y="1048.20" font-size="26" fill="#2b2b2b" stroke="#2b2b2b" stroke-width="0.3" text-anchor="middle" >0</text>
<text x="289.29" y="1048.20" font-size="26" fill="#2b2b2b" stroke="#2b2b2b" stroke-width="0.3" text-anchor="middle" >1</text>
<text x="361.89" y="1048.20" font-size="26" fill="#2b2b2b" stroke="#2b2b2b" stroke-width="0.3" text-anchor="middle" >2</text>
<text x="433.68" y="1048.20" font-size="26" fill="#2b2b2b" stroke="#2b2b2b" stroke-width="0.3" text-anchor="middle" >3</text>
<text x="506.18" y="1048.20" font-size="26" fill="#2b2b2b" stroke="#2b2b2b" stroke-width="0.3" text-anchor="middle" >4</text>
<text x="582.17" y="1048.20" font-size="26" fill="#2b2b2b" stroke="#2b2b2b" stroke-width="0.3" text-anchor="middle" >5</text>
<text x="654.56" y="1048.20" font-size="26" fill="#2b2b2b" stroke="#2b2b2b" stroke-width="0.3" text-anchor="middle" >6</text>
<text x="728.06" y="1048.20" font-size="26" fill="#2b2b2b" stroke="#2b2b2b" stroke-width="0.3" text-anchor="middle" >7</text>
<text x="800.15" y="1048.20" font-size="26" fill="#2b2b2b" stroke="#2b2b2b" stroke-width="0.3" text-anchor="middle" >8</text>
<text x="510.00" y="1075.70" font-size="26.4" fill="#2b2b2b" stroke="#2b2b2b" stroke-width="0.3" text-anchor="middle" >Eox (MV/cm)</text>
<text x="554.50" y="898.75" font-size="26.2" fill="#2b2b2b" stroke="#2b2b2b" stroke-width="0.3" text-anchor="end" >E=4.6 MV/cm</text>
<text x="589.50" y="739.00" font-size="26" fill="#2b2b2b" stroke="#2b2b2b" stroke-width="0.3" text-anchor="end" >5nm</text>
<text x="589.50" y="769.30" font-size="26" fill="#2b2b2b" stroke="#2b2b2b" stroke-width="0.3" text-anchor="end" >10nm</text>
<text x="589.50" y="798.80" font-size="26" fill="#2b2b2b" stroke="#2b2b2b" stroke-width="0.3" text-anchor="end" >20nm</text>
<text x="589.50" y="830.00" font-size="26" fill="#2b2b2b" stroke="#2b2b2b" stroke-width="0.3" text-anchor="end" >50nm</text>
<line x1="703.20" y1="604.20" x2="550.75" y2="1017.50" stroke="#151515" stroke-width="2.7" />
<line x1="473.30" y1="909.30" x2="510.50" y2="961.50" stroke="#151515" stroke-width="4.4" />
<path d="M519 975.4 L490.6 955.2 L506.5 958.2 L509.8 942.6 Z" fill="#151515"/>
<circle cx="496.5" cy="729.5" r="7.2" fill="#151515"/>
<circle cx="496.5" cy="760.5" r="6.0" fill="#fff" stroke="#151515" stroke-width="2.4"/>
<path d="M496.5 782.0 L504.8 798.0 L488.2 798.0 Z" fill="#151515"/>
<path d="M496.5 814.25 L503.1 827.75 L489.9 827.75 Z" fill="#fff" stroke="#151515" stroke-width="2.2" stroke-linejoin="miter"/>
<circle cx="216.0" cy="1016.6" r="7.8" fill="#151515"/>
<path d="M208 1016 L224 1016 L224.3 1024.8 L207.7 1024.8 Z" fill="#151515"/>
<path d="M460 989.75 L466.6 1003.25 L453.4 1003.25 Z" fill="#fff" stroke="#151515" stroke-width="2.2" stroke-linejoin="miter"/>
<path d="M509.5 995.75 L516.1 1009.25 L502.9 1009.25 Z" fill="none" stroke="#151515" stroke-width="2.2"/>
<path d="M520.8 986.0 L529.0999999999999 1002.0 L512.5 1002.0 Z" fill="#151515"/>
<circle cx="531.25" cy="993.25" r="7.2" fill="#151515"/>
<path d="M552.5 991.5 L560.8 1007.5 L544.2 1007.5 Z" fill="#151515"/>
<circle cx="549.5" cy="980" r="6.0" fill="#fff" stroke="#151515" stroke-width="2.4"/>
<path d="M561.25 976.5 L567.85 990.0 L554.65 990.0 Z" fill="#fff" stroke="#151515" stroke-width="2.2" stroke-linejoin="miter"/>
<circle cx="564.25" cy="926.25" r="7.2" fill="#151515"/>
<path d="M582.5 941.5 L590.8 957.5 L574.2 957.5 Z" fill="#151515"/>
<circle cx="583.75" cy="935" r="6.0" fill="#fff" stroke="#151515" stroke-width="2.4"/>
<path d="M593.75 895.25 L600.35 908.75 L587.15 908.75 Z" fill="#fff" stroke="#151515" stroke-width="2.2" stroke-linejoin="miter"/>
<circle cx="600" cy="864.5" r="7.2" fill="#151515"/>
<path d="M613 857.0 L621.3 873.0 L604.7 873.0 Z" fill="#151515"/>
<circle cx="616" cy="862.5" r="6.0" fill="#fff" stroke="#151515" stroke-width="2.4"/>
<circle cx="622.5" cy="820.75" r="7.2" fill="#151515"/>
<circle cx="635.5" cy="810" r="7.2" fill="#151515"/>
<path d="M644.25 776.5 L652.55 792.5 L635.95 792.5 Z" fill="#151515"/>
<path d="M631.25 762.75 L637.85 776.25 L624.65 776.25 Z" fill="#fff" stroke="#151515" stroke-width="2.2" stroke-linejoin="miter"/>
<circle cx="650" cy="772.5" r="6.0" fill="#fff" stroke="#151515" stroke-width="2.4"/>
<circle cx="668.75" cy="688.75" r="7.2" fill="#151515"/>
<path d="M673 685.25 L681.3 701.25 L664.7 701.25 Z" fill="#151515"/>
<path d="M656 664.75 L662.6 678.25 L649.4 678.25 Z" fill="#fff" stroke="#151515" stroke-width="2.2" stroke-linejoin="miter"/>
<circle cx="680.5" cy="674.5" r="6.0" fill="#fff" stroke="#151515" stroke-width="2.4"/>
<path d="M703 604.0 L711.3 620.0 L694.7 620.0 Z" fill="#151515"/>
</g>
<!--CURVES-->
<g font-size="39" fill="#000" stroke="#000" stroke-width="0.35">
<text x="137.7" y="86.6">(<tspan dx="-0.6">a</tspan><tspan dx="2.9">)</tspan></text>
<text x="575.6" y="86.6">(b<tspan dx="2.2">)</tspan></text>
<text x="255.3" y="675.3">(<tspan dx="-0.3">c</tspan><tspan dx="2.0">)</tspan></text>
</g>
<text transform="translate(148.7,814.6) rotate(-90)" font-size="23" fill="#000" text-anchor="middle"><tspan font-size="23">Δ</tspan>V<tspan font-size="15.5" dy="5.5">th</tspan><tspan dy="-5.5"> (V)</tspan></text>
</svg>
</body></html>
